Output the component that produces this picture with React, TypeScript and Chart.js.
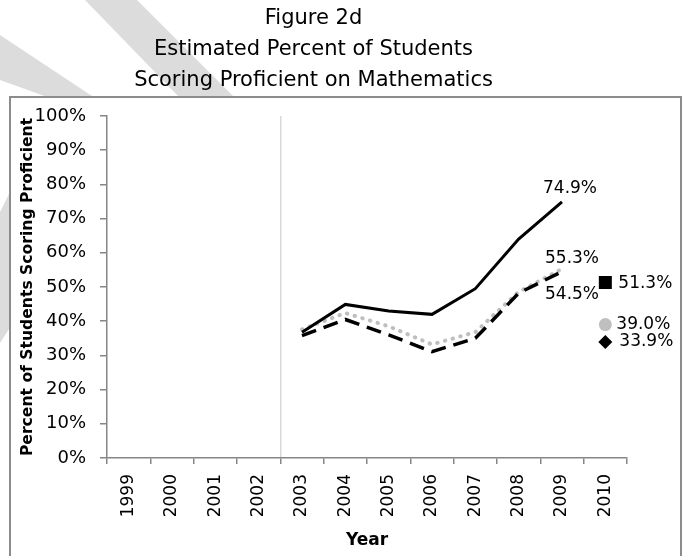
import React, { useEffect, useRef } from 'react';
import { Chart, registerables } from 'chart.js';

Chart.register(...registerables);

// ---- data ----
const years = ['1999', '2000', '2001', '2002', '2003', '2004', '2005', '2006', '2007', '2008', '2009', '2010'];
const solidSeries = [null, null, null, null, 36.8, 44.9, 43.0, 42.0, 49.5, 64.0, 74.9, null];
const dashedSeries = [null, null, null, null, 35.8, 40.5, 36.0, 31.1, 35.0, 48.2, 54.5, null];
const dottedSeries = [null, null, null, null, 37.6, 42.4, 38.5, 33.2, 36.8, 48.6, 55.3, null];
const solid2010 = [null, null, null, null, null, null, null, null, null, null, null, 51.3];
const dotted2010 = [null, null, null, null, null, null, null, null, null, null, null, 39.0];
const dashed2010 = [null, null, null, null, null, null, null, null, null, null, null, 33.9];
const titleLines = ['Figure 2d', 'Estimated Percent of Students', 'Scoring Proficient on Mathematics'];
const yTitle = 'Percent of Students Scoring Proficient';
const xTitle = 'Year';

const FONT = '"DejaVu Sans", sans-serif';
const AXIS_GREY = '#868686';

// value labels: [datasetIndex, pointIndex, dx, dy, align]
const valueLabels: [number, number, number, number, CanvasTextAlign][] = [
  [0, 10, 8, -13, 'center'],
  [2, 10, 10, -10, 'center'],
  [1, 10, 10, 23, 'center'],
  [3, 11, 13, 1, 'left'],
  [4, 11, 11, 0, 'left'],
  [5, 11, 14, 0, 'left'],
];

const backgroundPlugin = {
  id: 'pageBackground',
  beforeDraw(chart: any) {
    const ctx = chart.ctx as CanvasRenderingContext2D;
    const w = chart.width;
    const h = chart.height;
    ctx.save();
    ctx.fillStyle = '#ffffff';
    ctx.fillRect(0, 0, w, h);
    // faint diagonal watermark stripes
    ctx.fillStyle = '#dcdcdc';
    const polys = [
      [[85, 0], [137, 0], [235, 98], [180, 98]],
      [[0, 35], [0, 80], [50, 98], [95, 98]],
      [[0, 212], [11, 190], [11, 326], [0, 343]],
    ];
    polys.forEach((p) => {
      ctx.beginPath();
      ctx.moveTo(p[0][0], p[0][1]);
      for (let i = 1; i < p.length; i++) ctx.lineTo(p[i][0], p[i][1]);
      ctx.closePath();
      ctx.fill();
    });
    // chart frame
    ctx.fillStyle = '#ffffff';
    ctx.fillRect(10, 97, 671, h);
    ctx.strokeStyle = '#8c8c8c';
    ctx.lineWidth = 2;
    ctx.strokeRect(10, 97, 671, h + 10);
    ctx.restore();
  },
};

const labelPlugin = {
  id: 'valueLabels',
  afterDatasetsDraw(chart: any) {
    const ctx = chart.ctx as CanvasRenderingContext2D;
    const xs = chart.scales.x;
    const ys = chart.scales.y;
    ctx.save();
    ctx.font = `17px ${FONT}`;
    ctx.fillStyle = '#000000';
    ctx.textBaseline = 'middle';
    valueLabels.forEach(([di, pi, dx, dy, align]) => {
      const v = chart.data.datasets[di].data[pi] as number;
      const x = xs.getPixelForValue(pi) + dx;
      const y = ys.getPixelForValue(v) + dy;
      ctx.textAlign = align;
      ctx.fillText(v.toFixed(1) + '%', x, y);
    });
    ctx.restore();
  },
};

export default function App() {
  const ref = useRef<HTMLCanvasElement | null>(null);

  useEffect(() => {
    document.body.style.margin = '0';
    const canvas = ref.current;
    if (!canvas) return;
    const lineBase = { pointRadius: 0, pointHoverRadius: 0, fill: false, tension: 0, spanGaps: false };
    const markerBase = { showLine: false, borderWidth: 0 };
    const chart = new Chart(canvas, {
      type: 'line',
      data: {
        labels: years,
        datasets: [
          { ...lineBase, label: 'Series 1', data: solidSeries, borderColor: '#000000', borderWidth: 3 },
          { ...lineBase, label: 'Series 2', data: dashedSeries, borderColor: '#000000', borderWidth: 3.5, borderDash: [15, 8] },
          {
            ...lineBase,
            label: 'Series 3',
            data: dottedSeries,
            borderColor: '#bfbfbf',
            borderWidth: 4,
            borderDash: [0.5, 7.5],
            borderCapStyle: 'round',
          },
          { ...markerBase, label: 'Series 1 2010', data: solid2010, pointStyle: 'rect', pointRadius: 9.2, backgroundColor: '#000000', borderColor: '#000000' },
          { ...markerBase, label: 'Series 3 2010', data: dotted2010, pointStyle: 'circle', pointRadius: 6.5, backgroundColor: '#bfbfbf', borderColor: '#bfbfbf' },
          { ...markerBase, label: 'Series 2 2010', data: dashed2010, pointStyle: 'rectRot', pointRadius: 7, backgroundColor: '#000000', borderColor: '#000000' },
        ],
      },
      options: {
        animation: false,
        responsive: false,
        maintainAspectRatio: false,
        events: [],
        layout: { padding: { left: 0, right: 59, top: 0, bottom: 0 } },
        plugins: {
          legend: { display: false },
          tooltip: { enabled: false },
          title: {
            display: true,
            text: titleLines,
            color: '#000000',
            font: { family: FONT, size: 21, weight: 'normal', lineHeight: 1.476 },
            padding: { top: 3, bottom: 20 },
          },
        },
        scales: {
          x: {
            type: 'category',
            offset: true,
            grid: {
              offset: true,
              drawOnChartArea: true,
              drawTicks: true,
              tickLength: 6,
              tickColor: AXIS_GREY,
              lineWidth: 1.5,
              color: (c: any) => (c.index === 4 ? '#d9d9d9' : 'rgba(0,0,0,0)'),
            },
            border: { display: true, color: AXIS_GREY, width: 1.5 },
            ticks: {
              color: '#000000',
              font: { family: FONT, size: 17 },
              minRotation: 90,
              maxRotation: 90,
              padding: 10,
              autoSkip: false,
            },
            title: {
              display: true,
              text: xTitle,
              color: '#000000',
              font: { family: FONT, size: 17, weight: 'bold' },
              padding: { top: 0, bottom: 5 },
            },
            afterFit: (s: any) => {
              s.height = 98;
            },
          },
          y: {
            min: 0,
            max: 100,
            grid: {
              drawOnChartArea: false,
              drawTicks: true,
              tickLength: 7,
              color: AXIS_GREY,
              lineWidth: 1.5,
            },
            border: { display: true, color: AXIS_GREY, width: 1.5 },
            ticks: {
              stepSize: 10,
              color: '#000000',
              font: { family: FONT, size: 18 },
              padding: 14,
              callback: (v: any) => `${v}%`,
            },
            title: {
              display: true,
              text: yTitle,
              color: '#000000',
              font: { family: FONT, size: 15.6, weight: 'bold' },
              padding: { top: 18.6, bottom: 0 },
            },
            afterFit: (s: any) => {
              s.width = 107;
            },
          },
        },
      },
      plugins: [backgroundPlugin, labelPlugin],
    } as any);
    return () => chart.destroy();
  }, []);

  return <canvas ref={ref} width={686} height={556} style={{ display: 'block', width: 686, height: 556 }} />;
}
